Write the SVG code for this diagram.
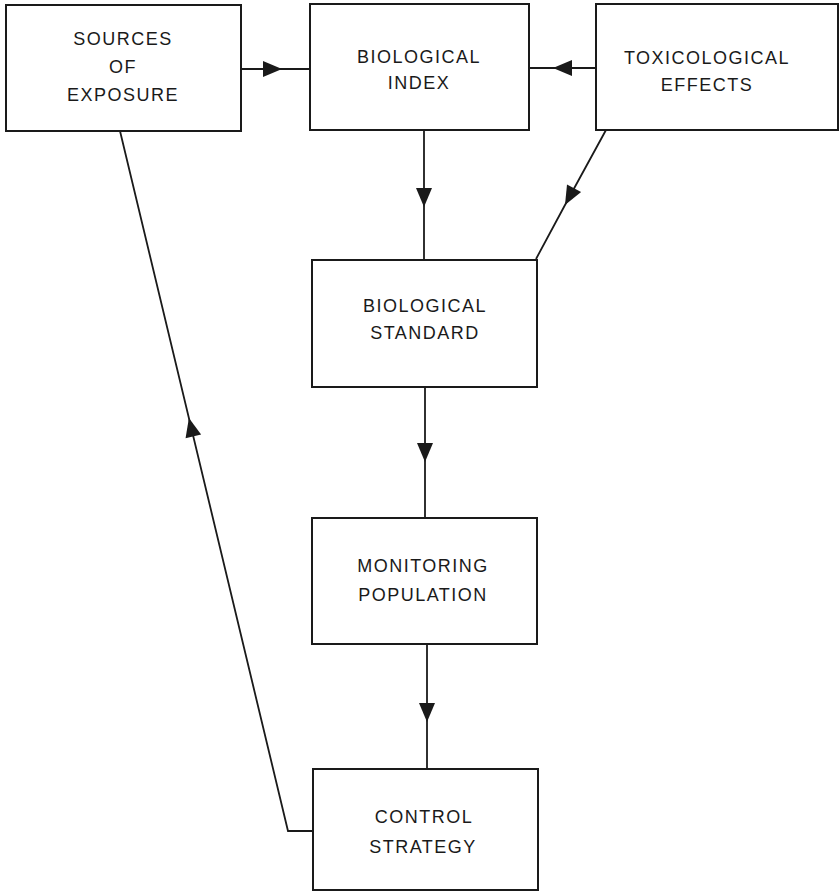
<svg xmlns="http://www.w3.org/2000/svg" width="839" height="892" viewBox="0 0 839 892">
<defs>
<style>
.box{fill:#fff;stroke:#1a1a1a;stroke-width:2}
.lbl{font-family:"Liberation Sans",Arial,sans-serif;font-size:18px;letter-spacing:1.5px;fill:#1a1a1a;text-anchor:middle}
.conn{fill:none;stroke:#1a1a1a;stroke-width:1.8}
</style>
<marker id="ah" markerUnits="userSpaceOnUse" markerWidth="24" markerHeight="20" viewBox="-20 -10 24 20" refX="0" refY="0" orient="auto">
<path d="M0,0 L-19,-8 L-19,8 Z" fill="#1a1a1a"/>
</marker>
</defs>
<rect width="839" height="892" fill="#fff"/>
<g id="connectors">
<path class="conn" d="M241,69 L282,69 L310,69" marker-mid="url(#ah)"/>
<path class="conn" d="M596,68 L553,68 L529,68" marker-mid="url(#ah)"/>
<path class="conn" d="M424,130 L424,207 L424,260" marker-mid="url(#ah)"/>
<path class="conn" d="M606,130 L565,205 L536,259" marker-mid="url(#ah)"/>
<path class="conn" d="M425,387 L425,462 L425,518" marker-mid="url(#ah)"/>
<path class="conn" d="M427,644 L427,722 L427,769" marker-mid="url(#ah)"/>
<path class="conn" d="M313,831 L288,831 L120,131"/>
<path d="M288,831 L188.9,418 L120,131" fill="none" stroke="none" marker-mid="url(#ah)"/>
</g>
<g id="sources">
<rect class="box" x="6" y="5" width="235" height="126"/>
<text class="lbl" x="123" y="45">SOURCES</text>
<text class="lbl" x="123" y="73">OF</text>
<text class="lbl" x="123" y="101">EXPOSURE</text>
</g>
<g id="bioindex">
<rect class="box" x="310" y="4" width="219" height="126"/>
<text class="lbl" x="419" y="63">BIOLOGICAL</text>
<text class="lbl" x="419" y="89">INDEX</text>
</g>
<g id="toxeffects">
<rect class="box" x="596" y="4" width="242" height="126"/>
<text class="lbl" x="707" y="64">TOXICOLOGICAL</text>
<text class="lbl" x="707" y="91">EFFECTS</text>
</g>
<g id="biostandard">
<rect class="box" x="312" y="260" width="225" height="127"/>
<text class="lbl" x="425" y="312">BIOLOGICAL</text>
<text class="lbl" x="425" y="339">STANDARD</text>
</g>
<g id="monitoring">
<rect class="box" x="312" y="518" width="225" height="126"/>
<text class="lbl" x="423" y="572">MONITORING</text>
<text class="lbl" x="423" y="601">POPULATION</text>
</g>
<g id="control">
<rect class="box" x="313" y="769" width="225" height="121"/>
<text class="lbl" x="424" y="823">CONTROL</text>
<text class="lbl" x="423" y="853">STRATEGY</text>
</g>
</svg>
